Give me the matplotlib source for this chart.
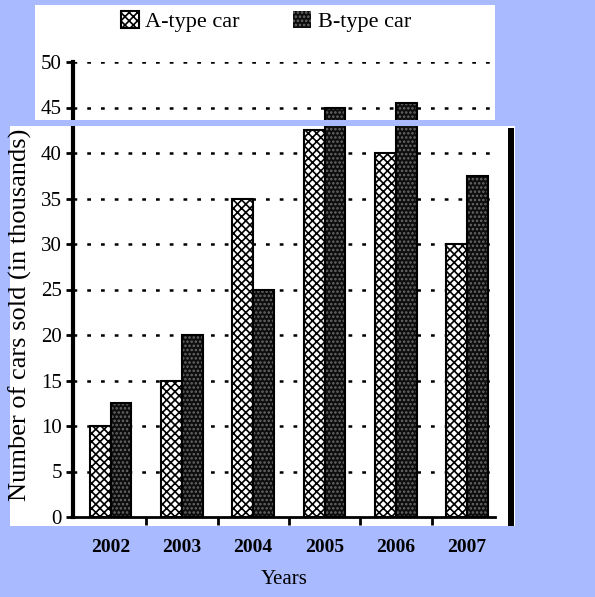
import matplotlib.pyplot as plt
import matplotlib.patches as mpatches
import numpy as np

years = ['2002', '2003', '2004', '2005', '2006', '2007']
a_type = [10, 15, 35, 42.5, 40, 30]
b_type = [12.5, 20, 25, 45, 45.5, 37.5]
labels = ['A-type car', 'B-type car']

plt.rcParams['font.family'] = ['Liberation Serif', 'DejaVu Serif']
plt.rcParams['hatch.linewidth'] = 1.2

blue = '#a9baff'
fig = plt.figure(figsize=(5.95, 5.97), dpi=100, facecolor=blue)
W, H = 595, 597

def px_rect(x0, y0, x1, y1, **kw):
    # rectangle in pixel coords (top-left origin)
    return mpatches.Rectangle((x0 / W, 1 - y1 / H), (x1 - x0) / W, (y1 - y0) / H,
                              transform=fig.transFigure, **kw)

# scanned white panels
fig.patches.append(px_rect(35, 5, 495, 120, facecolor='white', edgecolor='none', zorder=-5))
fig.patches.append(px_rect(10, 126, 515, 526, facecolor='white', edgecolor='none', zorder=-5))

ax = fig.add_axes([73 / W, 1 - 517 / H, (495 - 73) / W, (517 - 62) / H])
ax.set_facecolor('none')
ax.set_zorder(1)

x = np.arange(len(years))
width = 0.29
ax.bar(x - width / 2, a_type, width, facecolor='white', edgecolor='black',
       hatch='xxxx', linewidth=1.5, label=labels[0], zorder=3)
ax.bar(x + width / 2, b_type, width, facecolor='#0d0d0d', edgecolor='#6a6a6a',
       hatch='....', linewidth=0, label=labels[1], zorder=3)
for xi, v in zip(x, b_type):
    ax.add_patch(mpatches.Rectangle((xi, 0), width, v, fill=False, edgecolor='black',
                                    linewidth=1.5, zorder=4))

ax.set_xlim(-0.526, 5.39)
ax.set_ylim(0, 50)
ax.set_yticks(np.arange(0, 51, 5))
for y in np.arange(5, 51, 5):
    ax.axhline(y, color='black', linestyle=(0, (1.5, 4)), linewidth=1.8, zorder=1)

ax.set_xticks(x)
ax.set_xticklabels(years, fontweight='bold', fontsize=14)
ax.set_xticks(x[:-1] + 0.5, minor=True)
ax.tick_params(axis='x', which='major', length=0, pad=16)
ax.tick_params(axis='x', which='minor', length=6, width=2, direction='out')
ax.tick_params(axis='y', length=5, width=2, labelsize=15, pad=3)

for s in ['top', 'right']:
    ax.spines[s].set_visible(False)
ax.spines['left'].set_linewidth(3)
ax.spines['bottom'].set_linewidth(2)

ax.set_xlabel('Years', fontsize=15, labelpad=10)
ax.set_ylabel('Number of cars sold (in thousands)', fontsize=19)
ax.yaxis.set_label_coords(-0.098, 0.445)

# blue band between scanned pieces
fig.patches.append(px_rect(0, 120, 595, 126, facecolor=blue, edgecolor='none', zorder=10))
# dark scan edge on right
fig.patches.append(px_rect(508, 128, 514, 526, facecolor='black', edgecolor='none', zorder=10))

fig.legend(loc='upper center', bbox_to_anchor=(266 / W, 1 + 9 / H), ncol=2, frameon=False,
           fontsize=16, handlelength=0.8, handleheight=0.8, handletextpad=0.3,
           columnspacing=2.4)

plt.savefig('out.png', dpi=100, facecolor=blue)
